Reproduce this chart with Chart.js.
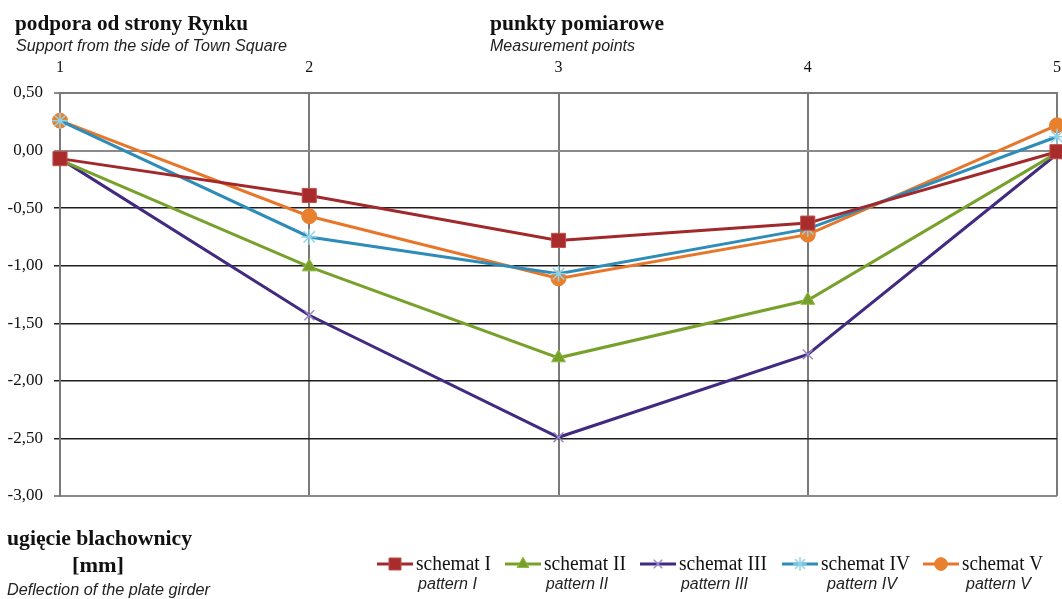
<!DOCTYPE html>
<html>
<head>
<meta charset="utf-8">
<script src="https://cdn.jsdelivr.net/npm/chart.js@4/dist/chart.umd.min.js"></script>
<style>
  html, body { margin: 0; padding: 0; background: #fff; }
  #wrap { width: 1062px; height: 599px; }
</style>
</head>
<body>
<div id="wrap"><canvas id="girder"></canvas></div>
<script>
const points = ['1', '2', '3', '4', '5'];
const yTicks = [0.5, 0, -0.5, -1, -1.5, -2, -2.5, -3];

const schematI = [-0.07, -0.39, -0.78, -0.63, -0.01];
const schematII = [-0.08, -1.01, -1.80, -1.30, -0.02];
const schematIII = [-0.07, -1.43, -2.49, -1.77, -0.03];
const schematIV = [0.26, -0.75, -1.07, -0.68, 0.12];
const schematV = [0.26, -0.57, -1.11, -0.73, 0.22];

const seriesNames = ['schemat I', 'schemat II', 'schemat III', 'schemat IV', 'schemat V'];
const seriesNamesEn = ['pattern I', 'pattern II', 'pattern III', 'pattern IV', 'pattern V'];

const SERIF = '"Liberation Serif", "Times New Roman", serif';
const SANS = '"Liberation Sans", Arial, sans-serif';

const styles = [
  {line: '#A1282B', fill: '#A82C2C', border: '#C0504D', point: 'rect', r: 10},
  {line: '#77A12B', fill: '#76A02A', border: '#8DB83E', point: 'triangle', r: 8},
  {line: '#412A80', fill: '#9C8AC9', border: '#9C8AC9', point: 'crossRot', r: 7},
  {line: '#2E8CB8', fill: '#8FD3EA', border: '#8FD3EA', point: 'star', r: 8},
  {line: '#E8762A', fill: '#E9802D', border: '#E9802D', point: 'circle', r: 7.5}
];

const allSeries = [schematI, schematII, schematIII, schematIV, schematV];

const datasets = allSeries.map((vals, i) => ({
  label: seriesNames[i],
  data: vals,
  borderColor: styles[i].line,
  borderWidth: 3,
  backgroundColor: styles[i].fill,
  pointBackgroundColor: styles[i].fill,
  pointBorderColor: styles[i].border,
  pointBorderWidth: (styles[i].point === 'crossRot' || styles[i].point === 'star') ? 1.5 : 1,
  pointStyle: styles[i].point,
  pointRadius: styles[i].r,
  pointHoverRadius: styles[i].r,
  tension: 0,
  fill: false
}));

// draw text squeezed to the width seen in the picture
function fitText(ctx, text, x, y, font, width, color) {
  ctx.save();
  ctx.font = font;
  ctx.fillStyle = color || '#111';
  ctx.textBaseline = 'alphabetic';
  ctx.textAlign = 'left';
  const w = ctx.measureText(text).width;
  ctx.translate(x, y);
  if (width) ctx.scale(width / w, 1);
  ctx.fillText(text, 0, 0);
  ctx.restore();
}

const legendX = [377, 505, 640, 782, 923];
const legendW = [75, 82, 88, 89, 81];
const patternW = [59, 62, 67, 70, 65];

const textPlugin = {
  id: 'texts',
  afterDraw(chart) {
    const ctx = chart.ctx;
    fitText(ctx, 'podpora od strony Rynku', 15, 30, 'bold 21px ' + SERIF, 233);
    fitText(ctx, 'Support from the side of Town Square', 16, 51, 'italic 16px ' + SANS, 271, '#222');
    fitText(ctx, 'punkty pomiarowe', 490, 30, 'bold 21px ' + SERIF, 174);
    fitText(ctx, 'Measurement points', 490, 51, 'italic 16px ' + SANS, 145, '#222');
    fitText(ctx, 'ugięcie blachownicy', 7, 545, 'bold 21px ' + SERIF, 185);
    fitText(ctx, '[mm]', 72, 572, 'bold 21px ' + SERIF, 52);
    fitText(ctx, 'Deflection of the plate girder', 7, 595, 'italic 16px ' + SANS, 203, '#222');

    seriesNames.forEach((name, i) => {
      const x0 = legendX[i];
      const y0 = 564;
      const st = styles[i];
      ctx.save();
      ctx.strokeStyle = st.line;
      ctx.lineWidth = 3;
      ctx.beginPath();
      ctx.moveTo(x0, y0);
      ctx.lineTo(x0 + 36, y0);
      ctx.stroke();
      ctx.fillStyle = st.fill;
      ctx.strokeStyle = st.border;
      ctx.lineWidth = (st.point === 'crossRot' || st.point === 'star') ? 1.5 : 1;
      Chart.helpers.drawPoint(ctx, {pointStyle: st.point, radius: st.r * 0.85, rotation: 0, borderWidth: ctx.lineWidth}, x0 + 18, y0);
      ctx.restore();
      fitText(ctx, name, x0 + 39, 570, '20px ' + SERIF, legendW[i]);
      fitText(ctx, seriesNamesEn[i], x0 + 41 + (i === 3 ? 4 : 0) + (i === 4 ? 2 : 0), 589, 'italic 16px ' + SANS, patternW[i], '#222');
    });
  }
};

const gridGray = '#8a8a8a';

new Chart(document.getElementById('girder'), {
  type: 'line',
  data: {labels: points, datasets: datasets},
  plugins: [textPlugin],
  options: {
    responsive: true,
    maintainAspectRatio: false,
    animation: false,
    layout: {autoPadding: false, padding: {left: 0, right: 5, top: 0, bottom: 103}},
    plugins: {
      legend: {display: false},
      tooltip: {enabled: false}
    },
    scales: {
      x: {
        type: 'category',
        position: 'top',
        offset: false,
        grid: {color: '#7a7a7a', lineWidth: 2, drawTicks: false},
        border: {color: '#7a7a7a', width: 2},
        ticks: {
          color: '#111',
          font: {family: SERIF, size: 16},
          padding: 16,
          maxRotation: 0,
          autoSkip: false
        },
        afterFit(scale) {
          scale.height = 93;
          scale.paddingLeft = 0;
          scale.paddingRight = 0;
        }
      },
      y: {
        min: -3,
        max: 0.5,
        afterBuildTicks(scale) { scale.ticks = yTicks.map(v => ({value: v})); },
        grid: {
          color: c => (c.tick && (c.tick.value >= 0 || c.tick.value === -3)) ? gridGray : '#1e1e1e',
          lineWidth: c => (c.tick && (c.tick.value >= 0 || c.tick.value === -3)) ? 2 : 1.5,
          tickLength: 6
        },
        border: {color: '#7a7a7a', width: 2},
        ticks: {
          color: '#111',
          font: {family: SERIF, size: 17},
          padding: 11,
          callback: v => Number(v).toFixed(2).replace('.', ',')
        },
        afterFit(scale) {
          scale.width = 60;
          scale.paddingTop = 0;
          scale.paddingBottom = 0;
        }
      }
    }
  }
});
</script>
</body>
</html>
